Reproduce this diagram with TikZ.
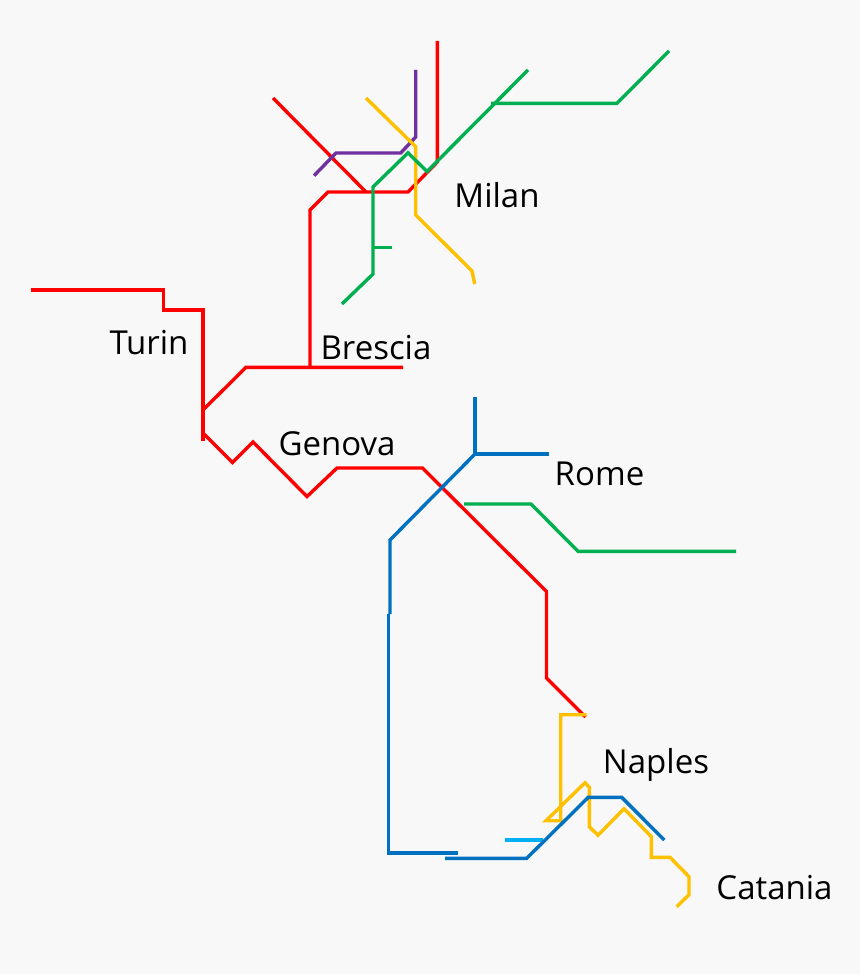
\documentclass[tikz,border=0pt]{standalone}
\usepackage{xcolor}
\usepackage{fontspec}
\setmainfont{Open Sans}
\definecolor{metrored}{HTML}{FF0000}
\definecolor{metrogreen}{HTML}{00B050}
\definecolor{metroblue}{HTML}{0070C0}
\definecolor{metrocyan}{HTML}{00B0F0}
\definecolor{metroyellow}{HTML}{FFC000}
\definecolor{metropurple}{HTML}{7030A0}
\definecolor{paper}{HTML}{F8F8F8}
\begin{document}
\begin{tikzpicture}[
    x=1pt, y=-1pt,
    every path/.style={line width=3.4pt},
    city/.style={inner sep=0pt, font=\fontsize{33}{36}\selectfont, text=black}
]
\fill[paper] (0,0) rectangle (860,974);
\useasboundingbox (0,0) rectangle (860,974);
% north
\draw[metrored] (437.3,41) -- (437.3,162) -- (408,192) -- (328,192) -- (310,210) -- (310,366);
\draw[metrored] (273,98) -- (366,192);
\draw[metrored] (31,290) -- (163.5,290) -- (163.5,310) -- (203,310) -- (203,441);
\draw[metrored] (203,410) -- (246,367.3) -- (403,367.3);
\draw[metrored] (203,433) -- (232.5,462.5) -- (253,442) -- (307,496.5) -- (337,468) -- (422.5,468) -- (546.5,591.5) -- (546.5,678) -- (585.5,717);
\draw[metropurple] (415.7,70) -- (415.7,137) -- (400.7,153) -- (336,153) -- (314,175.7);
\draw[metroyellow] (366,98) -- (415.7,146.7) -- (415.7,215) -- (472,271) -- (474.7,284);
\draw[metrogreen] (342,304) -- (373,274) -- (373,187) -- (408,152.8) -- (427,171.5) -- (528,70);
\draw[metrogreen] (373,247.7) -- (391.7,247.7);
\draw[metrogreen] (491,103.3) -- (617,103.3) -- (669,51);
% south
\draw[metrogreen] (464,504) -- (531,504) -- (578,551.3) -- (736,551.3);
\draw[metroblue] (475,397) -- (475,454) -- (549,454);
\draw[metroblue] (475,454) -- (390,540) -- (390,614);
\draw[metroblue] (388.3,614) -- (388.3,853) -- (457.7,853);
\draw[metroyellow] (586.7,714.7) -- (560.7,714.7) -- (560.7,820.7) -- (546,820.7) -- (585,782.7) -- (589.3,787.3) -- (589.3,826.7) -- (598,835.3) -- (624,808.7) -- (651.3,836.7) -- (651.3,857.3) -- (670,857.3) -- (689,876.7) -- (689,894.7) -- (676.7,906.7);
\draw[metrocyan] (505,840) -- (543.3,840);
\draw[metroblue] (445,858.3) -- (526.7,858.3) -- (588.3,797.3) -- (621.7,797.3) -- (664.3,840);
% cities
\node[city] (milan) at (497,195.5) {Milan};
\node[city] (turin) at (149,343) {Turin};
\node[city] (brescia) at (376,348) {Brescia};
\node[city] (genova) at (337,444) {Genova};
\node[city] (rome) at (599.5,474) {Rome};
\node[city] (naples) at (656,765) {Naples};
\node[city] (catania) at (774.5,888) {Catania};
\end{tikzpicture}
\end{document}
